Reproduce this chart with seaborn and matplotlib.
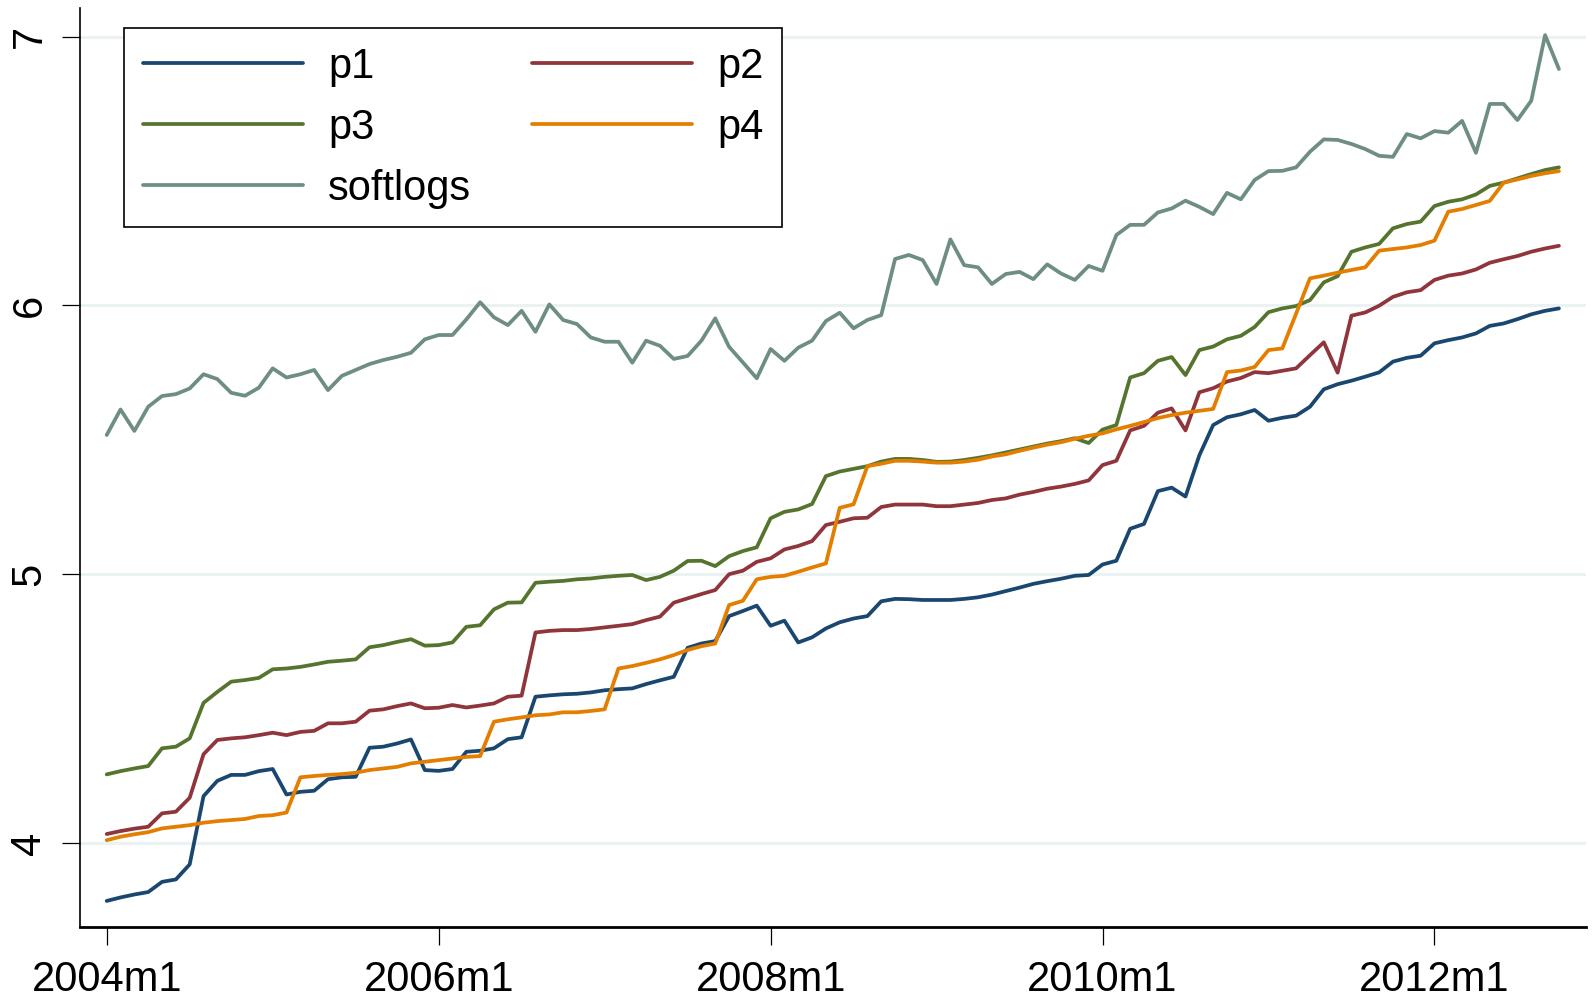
import numpy as np
import pandas as pd
import seaborn as sns
import matplotlib.pyplot as plt
from matplotlib.lines import Line2D

# monthly series, 2004m1 .. 2012m10
months = np.arange(106)
xtick_pos = [0, 24, 48, 72, 96]
xtick_lab = ['2004m1', '2006m1', '2008m1', '2010m1', '2012m1']
ytick_pos = [4, 5, 6, 7]

p1 = [3.784, 3.797, 3.808, 3.817, 3.855, 3.864, 3.920, 4.174, 4.231, 4.253,
      4.253, 4.267, 4.275, 4.180, 4.190, 4.194, 4.237, 4.244, 4.246, 4.354,
      4.358, 4.370, 4.385, 4.271, 4.268, 4.275, 4.339, 4.343, 4.352, 4.386,
      4.393, 4.544, 4.549, 4.553, 4.555, 4.560, 4.568, 4.572, 4.575, 4.591,
      4.605, 4.618, 4.726, 4.742, 4.751, 4.844, 4.863, 4.883, 4.808, 4.827,
      4.746, 4.765, 4.798, 4.821, 4.835, 4.844, 4.899, 4.908, 4.907, 4.904,
      4.904, 4.904, 4.908, 4.914, 4.924, 4.937, 4.950, 4.964, 4.974, 4.983,
      4.994, 4.997, 5.036, 5.050, 5.169, 5.187, 5.309, 5.322, 5.289, 5.442,
      5.555, 5.584, 5.595, 5.611, 5.571, 5.582, 5.590, 5.623, 5.688, 5.707,
      5.720, 5.735, 5.751, 5.791, 5.805, 5.813, 5.859, 5.871, 5.881, 5.896,
      5.924, 5.933, 5.949, 5.967, 5.980, 5.989]

p2 = [4.033, 4.044, 4.053, 4.060, 4.110, 4.116, 4.168, 4.330, 4.383, 4.389,
      4.393, 4.401, 4.410, 4.401, 4.413, 4.417, 4.445, 4.445, 4.451, 4.492,
      4.497, 4.509, 4.519, 4.501, 4.503, 4.513, 4.504, 4.511, 4.519, 4.544,
      4.548, 4.783, 4.789, 4.792, 4.792, 4.796, 4.802, 4.808, 4.814, 4.829,
      4.842, 4.894, 4.910, 4.926, 4.941, 5.000, 5.013, 5.046, 5.059, 5.092,
      5.105, 5.123, 5.183, 5.195, 5.208, 5.210, 5.250, 5.259, 5.259, 5.259,
      5.253, 5.253, 5.259, 5.265, 5.276, 5.282, 5.296, 5.306, 5.318, 5.326,
      5.336, 5.349, 5.406, 5.422, 5.535, 5.552, 5.601, 5.617, 5.535, 5.677,
      5.692, 5.717, 5.730, 5.752, 5.748, 5.757, 5.766, 5.815, 5.863, 5.750,
      5.962, 5.974, 5.999, 6.032, 6.049, 6.057, 6.095, 6.111, 6.119, 6.134,
      6.159, 6.172, 6.184, 6.200, 6.212, 6.222]

p3 = [4.255, 4.267, 4.277, 4.286, 4.352, 4.358, 4.389, 4.521, 4.562, 4.600,
      4.606, 4.614, 4.646, 4.649, 4.655, 4.664, 4.674, 4.678, 4.683, 4.728,
      4.736, 4.748, 4.758, 4.734, 4.736, 4.746, 4.804, 4.810, 4.869, 4.894,
      4.895, 4.968, 4.972, 4.975, 4.981, 4.984, 4.990, 4.994, 4.997, 4.978,
      4.990, 5.013, 5.049, 5.050, 5.030, 5.067, 5.086, 5.100, 5.208, 5.232,
      5.241, 5.261, 5.365, 5.382, 5.392, 5.402, 5.419, 5.429, 5.429, 5.425,
      5.418, 5.419, 5.425, 5.433, 5.442, 5.453, 5.464, 5.475, 5.486, 5.495,
      5.506, 5.488, 5.538, 5.555, 5.732, 5.748, 5.794, 5.808, 5.741, 5.834,
      5.847, 5.874, 5.887, 5.920, 5.975, 5.989, 5.998, 6.020, 6.086, 6.109,
      6.200, 6.216, 6.229, 6.287, 6.303, 6.312, 6.370, 6.386, 6.395, 6.413,
      6.445, 6.457, 6.473, 6.489, 6.504, 6.514]

p4 = [4.010, 4.023, 4.032, 4.040, 4.054, 4.060, 4.066, 4.075, 4.081, 4.085,
      4.089, 4.100, 4.103, 4.113, 4.244, 4.249, 4.253, 4.256, 4.261, 4.271,
      4.277, 4.283, 4.296, 4.302, 4.308, 4.314, 4.320, 4.323, 4.451, 4.460,
      4.467, 4.475, 4.478, 4.486, 4.486, 4.491, 4.497, 4.649, 4.658, 4.670,
      4.683, 4.699, 4.718, 4.732, 4.742, 4.885, 4.901, 4.981, 4.990, 4.994,
      5.009, 5.025, 5.040, 5.247, 5.260, 5.402, 5.411, 5.422, 5.422, 5.419,
      5.415, 5.415, 5.419, 5.426, 5.438, 5.446, 5.459, 5.471, 5.482, 5.491,
      5.504, 5.515, 5.524, 5.539, 5.552, 5.566, 5.581, 5.592, 5.601, 5.608,
      5.615, 5.752, 5.758, 5.771, 5.834, 5.840, 5.970, 6.101, 6.111, 6.122,
      6.132, 6.142, 6.204, 6.210, 6.216, 6.225, 6.241, 6.349, 6.359, 6.374,
      6.389, 6.457, 6.469, 6.482, 6.492, 6.500]

softlogs = [5.518, 5.613, 5.533, 5.623, 5.663, 5.670, 5.691, 5.744, 5.726, 5.675,
            5.664, 5.694, 5.766, 5.732, 5.744, 5.760, 5.685, 5.738, 5.760, 5.782,
            5.797, 5.809, 5.824, 5.874, 5.890, 5.890, 5.948, 6.012, 5.956, 5.927,
            5.980, 5.902, 6.004, 5.946, 5.931, 5.881, 5.865, 5.865, 5.787, 5.869,
            5.850, 5.801, 5.812, 5.869, 5.952, 5.846, 5.788, 5.729, 5.838, 5.794,
            5.843, 5.869, 5.942, 5.973, 5.915, 5.946, 5.964, 6.173, 6.188, 6.169,
            6.080, 6.246, 6.150, 6.142, 6.080, 6.117, 6.125, 6.098, 6.153, 6.119,
            6.095, 6.147, 6.129, 6.262, 6.300, 6.300, 6.346, 6.361, 6.390, 6.367,
            6.340, 6.419, 6.395, 6.467, 6.500, 6.501, 6.514, 6.572, 6.618, 6.616,
            6.601, 6.582, 6.557, 6.553, 6.638, 6.622, 6.649, 6.643, 6.687, 6.568,
            6.750, 6.750, 6.690, 6.762, 7.006, 6.880]

names = ['p1', 'p2', 'p3', 'p4', 'softlogs']
colors = {'p1': '#1a476f', 'p2': '#90353b', 'p3': '#55752f',
          'p4': '#e37e00', 'softlogs': '#6e8e84'}


def make_df():
    df = pd.DataFrame({'month': months, 'p1': p1, 'p2': p2, 'p3': p3,
                       'p4': p4, 'softlogs': softlogs})
    return df.melt(id_vars='month', var_name='series', value_name='value')


def plot(df):
    sns.set_style('white')
    plt.rcParams['font.family'] = ['Liberation Sans', 'DejaVu Sans']

    fig = plt.figure(figsize=(15.94, 10), dpi=100)
    ax = fig.add_axes([0.0502, 0.073, 0.9448, 0.919])

    sns.lineplot(data=df, x='month', y='value', hue='series',
                 hue_order=names, palette=colors, linewidth=2.7,
                 ax=ax, legend=False)

    ax.set_xlim(-1.93, 106.96)
    ax.set_ylim(3.687, 7.107)
    ax.set_xticks(xtick_pos)
    ax.set_xticklabels(xtick_lab)
    ax.set_yticks(ytick_pos)
    ax.set_yticklabels([str(v) for v in ytick_pos], rotation=90, va='center')
    ax.set_xlabel('')
    ax.set_ylabel('')

    ax.yaxis.grid(True, color='#eaf2f3', linewidth=2.2)
    ax.xaxis.grid(False)
    ax.set_axisbelow(True)

    # seaborn white style hides the ticks, stata shows them
    ax.tick_params(axis='both', which='major', bottom=True, left=True,
                   labelsize=30, length=13, width=0.9, color='black',
                   labelcolor='black', direction='out')
    ax.tick_params(axis='y', pad=9)
    ax.tick_params(axis='x', pad=11)

    sns.despine(ax=ax, top=True, right=True)
    ax.spines['bottom'].set_linewidth(2.0)
    ax.spines['left'].set_linewidth(1.2)
    ax.spines['bottom'].set_color('black')
    ax.spines['left'].set_color('black')

    # two columns: p1 p2 / p3 p4 / softlogs
    order = ['p1', 'p3', 'softlogs', 'p2', 'p4']
    handles = [Line2D([], [], color=colors[n], linewidth=2.7) for n in order]
    leg = ax.legend(handles, order, ncol=2, loc='upper left',
                    bbox_to_anchor=(0.0292, 0.978), borderaxespad=0,
                    fontsize=30, handlelength=3.85, handletextpad=0.6,
                    columnspacing=1.45, labelspacing=0.5, borderpad=0.45,
                    fancybox=False, framealpha=1)
    leg.get_frame().set_edgecolor('black')
    leg.get_frame().set_linewidth(1.2)
    for t in leg.get_texts():
        t.set_color('black')

    plt.savefig('out.png', dpi=100)


if __name__ == '__main__':
    df_long = make_df()
    plot(df_long)
